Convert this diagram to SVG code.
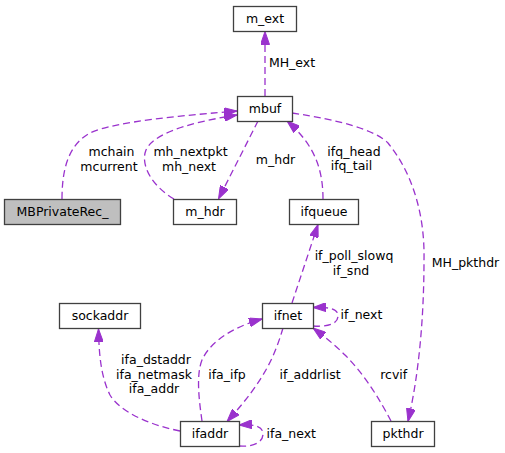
<svg xmlns="http://www.w3.org/2000/svg" width="505" height="453" viewBox="0 0 505 453">
<style>
.node rect{fill:#ffffff;stroke:#404040;stroke-width:1.3}
.node.hl rect{fill:#bfbfbf}
text{font-family:"DejaVu Sans","Liberation Sans",sans-serif;font-size:12.5px;fill:#000}
.node text{text-anchor:middle}
.lbl{text-anchor:middle}
.edge{fill:none;stroke:#9a32cd;stroke-width:1.3;stroke-dasharray:7,4;marker-end:url(#ah)}
</style>
<defs>
<marker id="ah" markerUnits="userSpaceOnUse" viewBox="0 0 13 9" refX="13" refY="4.5" markerWidth="13" markerHeight="9" orient="auto">
<path d="M0,0 L13,4.5 L0,9 z" fill="#9a32cd" stroke="#9a32cd" stroke-width="1"/>
</marker>
</defs>
<rect width="505" height="453" fill="#ffffff"/>
<g id="connectors">
<path class="edge" d="M265,96 L265,31.5"/>
<path class="edge" d="M62,199 C62,170 68,145 90,133 C115,121 190,115 237,111"/>
<path class="edge" d="M174,199 C152,186 140,165 146,150 C155,130 205,120 237,115"/>
<path class="edge" d="M258,121 L218.5,199"/>
<path class="edge" d="M323,199 C323,170 315,145 287,121"/>
<path class="edge" d="M292,113 C340,120 375,130 388,143 C410,170 425,210 424,260 C424,310 420,370 408,421.5"/>
<path class="edge" d="M292,303 L318,224.5"/>
<path class="edge" d="M313,326 C325,327 338,325 338,316 C338,309 331,307 313,307.5"/>
<path class="edge" d="M202,421 C199,400 196,375 202,360 C212,338 240,325 262,319"/>
<path class="edge" d="M283,328 C275,355 265,380 227,421.5"/>
<path class="edge" d="M180,431 C150,425 120,412 110,395 C100,375 99,350 98.5,329"/>
<path class="edge" d="M391,421 C380,400 365,375 345,355 C335,345 325,337 313,328"/>
<path class="edge" d="M239,446 C252,447 263,443 263,434 C263,427 256,424 239,425"/>
<text class="lbl" x="292" y="67">MH_ext</text>
<text class="lbl" x="111.5" y="156">mchain</text>
<text class="lbl" x="109" y="171">mcurrent</text>
<text class="lbl" x="190.5" y="156">mh_nextpkt</text>
<text class="lbl" x="189" y="171">mh_next</text>
<text class="lbl" x="275.5" y="163.5">m_hdr</text>
<text class="lbl" x="354" y="155.5">ifq_head</text>
<text class="lbl" x="351.5" y="170">ifq_tail</text>
<text class="lbl" x="465.5" y="267">MH_pkthdr</text>
<text class="lbl" x="354" y="259.5">if_poll_slowq</text>
<text class="lbl" x="351" y="274.5">if_snd</text>
<text class="lbl" x="361.5" y="319">if_next</text>
<text class="lbl" x="227" y="379">ifa_ifp</text>
<text class="lbl" x="310" y="379">if_addrlist</text>
<text class="lbl" x="393.7" y="379">rcvif</text>
<text class="lbl" x="156" y="364">ifa_dstaddr</text>
<text class="lbl" x="154" y="378.5">ifa_netmask</text>
<text class="lbl" x="154" y="393">ifa_addr</text>
<text class="lbl" x="291.3" y="438">ifa_next</text>
</g>
<g id="node-m_ext" class="node"><rect x="233.5" y="6.5" width="63" height="25"/><text x="265" y="23">m_ext</text></g>
<g id="node-mbuf" class="node"><rect x="237.5" y="96.5" width="55" height="25"/><text x="265" y="113">mbuf</text></g>
<g id="node-MBPrivateRec_" class="node hl"><rect x="4.5" y="199.5" width="116" height="25"/><text x="62.5" y="216">MBPrivateRec_</text></g>
<g id="node-m_hdr" class="node"><rect x="173.5" y="199.5" width="63" height="25"/><text x="205" y="216">m_hdr</text></g>
<g id="node-ifqueue" class="node"><rect x="289.5" y="199.5" width="69" height="25"/><text x="324" y="216">ifqueue</text></g>
<g id="node-sockaddr" class="node"><rect x="59.5" y="303.5" width="81" height="25"/><text x="100" y="320">sockaddr</text></g>
<g id="node-ifnet" class="node"><rect x="262.5" y="303.5" width="51" height="25"/><text x="288" y="320">ifnet</text></g>
<g id="node-ifaddr" class="node"><rect x="180.5" y="421.5" width="59" height="25"/><text x="210" y="438">ifaddr</text></g>
<g id="node-pkthdr" class="node"><rect x="371.5" y="421.5" width="63" height="25"/><text x="403" y="438">pkthdr</text></g>
</svg>
